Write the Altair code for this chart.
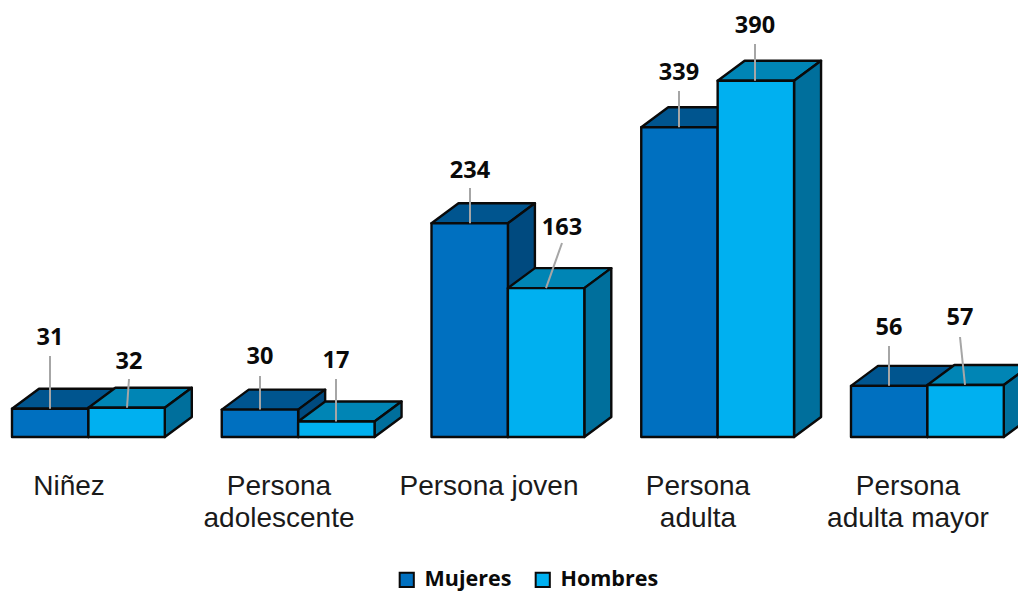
import altair as alt
import pandas as pd

categories = ["Niñez", "Persona adolescente", "Persona joven", "Persona adulta", "Persona adulta mayor"]
mujeres = [31, 30, 234, 339, 56]
hombres = [32, 17, 163, 390, 57]
series_names = ["Mujeres", "Hombres"]
cat_line1 = ["Niñez", "Persona", "Persona joven", "Persona", "Persona"]
cat_line2 = ["", "adolescente", "", "adulta", "adulta mayor"]

# layout (reference pixels) converted to data units by the helpers below
W, H = 1010, 584
BASE_PX, UNIT_PX = 437, 0.9135
SLOT_PX, FIRST_PX = 209.75, 12
BAR_PX, DEPTH_X_PX, DEPTH_Y_PX = 76.4, 27, 20
label_pos = [[(50, 338), (129, 362)], [(260, 357), (336, 361)], [(470, 171), (562, 228)],
             [(679, 73), (755, 26)], [(889, 328), (960, 318)]]
leader_start = [[(50, 356), (129, 379)], [(260, 376), (336, 379)], [(470, 188), (562, 243)],
                [(679, 91), (755, 44)], [(889, 346), (960, 337)]]
leader_end_x = [[50, 127], [260, 336], [470, 546], [679, 755], [889, 965]]
cat_x = [69, 279, 489, 698, 908]

def vy(y):
    return (BASE_PX - y) / UNIT_PX

x_dom = [8, 8 + W]
y_dom = [vy(8 + H), vy(8)]
xs = alt.Scale(domain=x_dom, nice=False, zero=False)
ys = alt.Scale(domain=y_dom, nice=False, zero=False)
dy = DEPTH_Y_PX / UNIT_PX

colors = {"Mujeres": ("#0070c0", "#00558f", "#004a7f"),
          "Hombres": ("#00b0f0", "#0085b5", "#006f9c")}
rows_front, rows_top, rows_side = [], [], []
for s, (name, vals) in enumerate(zip(series_names, [mujeres, hombres])):
    for i, v in enumerate(vals):
        x0 = FIRST_PX + SLOT_PX * i + BAR_PX * s
        x1 = x0 + BAR_PX
        rid = f"{name}{i}"
        rows_front.append(dict(serie=name, x=x0, x2=x1, y=0, y2=v))
        rows_top += [dict(id=rid, serie=name, y=v, x=x0, x2=x1),
                     dict(id=rid, serie=name, y=v + dy, x=x0 + DEPTH_X_PX, x2=x1 + DEPTH_X_PX)]
        rows_side += [dict(id=rid, serie=name, x=x1, y=0, y2=v),
                      dict(id=rid, serie=name, x=x1 + DEPTH_X_PX, y=dy, y2=v + dy)]
front, top, side = map(pd.DataFrame, (rows_front, rows_top, rows_side))

STROKE = {"stroke": "#0a0a0a", "strokeWidth": 2.4, "strokeJoin": "round"}

def faces(name):
    t = alt.Chart(top[top.serie == name]).mark_area(orient="horizontal", clip=True, fill=colors[name][1], **STROKE).encode(
        y=alt.Y("y:Q", scale=ys, axis=None, stack=None), x=alt.X("x:Q", scale=xs, axis=None), x2="x2:Q", detail="id:N")
    d = alt.Chart(side[side.serie == name]).mark_area(clip=True, fill=colors[name][2], **STROKE).encode(
        x=alt.X("x:Q", scale=xs, axis=None), y=alt.Y("y:Q", scale=ys, axis=None, stack=None), y2="y2:Q", detail="id:N")
    f = alt.Chart(front[front.serie == name]).mark_rect(**STROKE).encode(
        x=alt.X("x:Q", scale=xs, axis=None), x2="x2:Q",
        y=alt.Y("y:Q", scale=ys, axis=None), y2="y2:Q",
        color=alt.Color("serie:N", scale=alt.Scale(domain=series_names, range=[colors[n][0] for n in series_names]),
                        legend=alt.Legend(title=None, orient="none", legendX=388, legendY=561, direction="horizontal",
                                          symbolType="square", symbolSize=200, symbolStrokeColor="#0a0a0a",
                                          symbolStrokeWidth=2, labelFont="Open Sans", labelFontWeight="bold",
                                          labelFontSize=21.5, labelColor="#0a0a0a", columnPadding=19, labelOffset=7,
                                          labelLimit=200)))
    return [t, d, f]

lab_rows, lead_rows = [], []
for i in range(5):
    for s, vals in enumerate([mujeres, hombres]):
        v = vals[i]
        lx, ly = label_pos[i][s]
        sx, sy = leader_start[i][s]
        lab_rows.append(dict(x=lx, y=vy(ly), t=str(v)))
        lead_rows.append(dict(x=sx, y=vy(sy), x2=leader_end_x[i][s], y2=v))
labels = alt.Chart(pd.DataFrame(lab_rows)).mark_text(font="Open Sans", fontWeight="bold", fontSize=23.5, color="#0a0a0a").encode(
    x=alt.X("x:Q", scale=xs, axis=None), y=alt.Y("y:Q", scale=ys, axis=None), text="t:N")
leaders = alt.Chart(pd.DataFrame(lead_rows)).mark_rule(color="#a6a6a6", strokeWidth=2).encode(
    x=alt.X("x:Q", scale=xs, axis=None), x2="x2:Q", y=alt.Y("y:Q", scale=ys, axis=None), y2="y2:Q")

cat_rows = []
for i in range(5):
    cat_rows.append(dict(x=cat_x[i], y=vy(487), t=cat_line1[i]))
    if cat_line2[i]:
        cat_rows.append(dict(x=cat_x[i], y=vy(519), t=cat_line2[i]))
cats = alt.Chart(pd.DataFrame(cat_rows)).mark_text(font="Liberation Sans", fontSize=28, color="#1a1a1a").encode(
    x=alt.X("x:Q", scale=xs, axis=None), y=alt.Y("y:Q", scale=ys, axis=None), text="t:N")

chart = alt.layer(*faces("Mujeres"), *faces("Hombres"), leaders, labels, cats).properties(
    width=W, height=H, padding=0, background="white",
    autosize=alt.AutoSizeParams(type="none")
).configure_view(strokeWidth=0)

chart.save("out.html", embed_options={"renderer": "svg", "actions": False})
